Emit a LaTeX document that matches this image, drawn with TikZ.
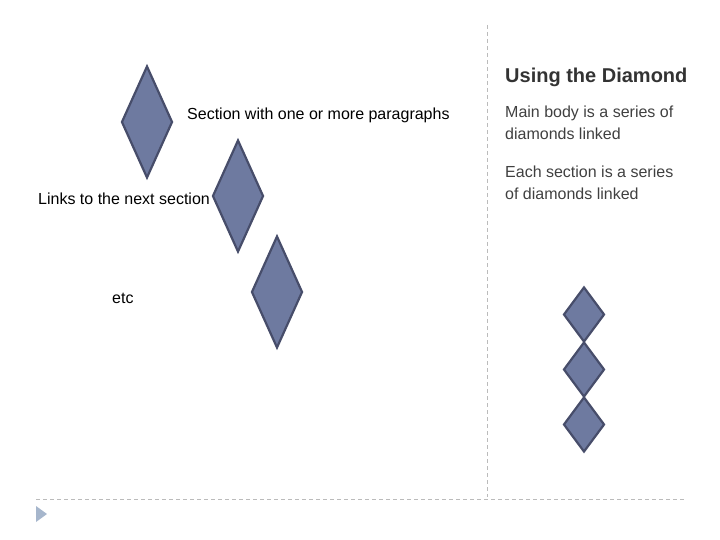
\documentclass[tikz,border=0pt]{standalone}
\usepackage{fontspec}
\setmainfont{Liberation Sans}
\usetikzlibrary{shapes.geometric}
\definecolor{dfill}{HTML}{6E7AA0}
\definecolor{dborder}{HTML}{474D6A}
\definecolor{sepline}{HTML}{BBBBBB}
\definecolor{bullet}{HTML}{A6B6CC}
\definecolor{bodytext}{HTML}{404040}
\definecolor{titletext}{HTML}{333333}
\begin{document}
\begin{tikzpicture}[x=1pt,y=-1pt,
  bigdia/.style={diamond, draw=dborder, fill=dfill, line width=2.2pt, inner sep=0pt, minimum width=51pt, minimum height=112pt},
  smalldia/.style={diamond, draw=dborder, fill=dfill, line width=2.2pt, inner sep=0pt, minimum width=41pt, minimum height=55pt},
  lefttext/.style={anchor=base west, inner sep=0pt, font=\fontsize{16}{19}\selectfont, text=black},
  righttext/.style={anchor=base west, inner sep=0pt, font=\fontsize{16}{19}\selectfont, text=bodytext},
  titlestyle/.style={anchor=base west, inner sep=0pt, font=\fontsize{20}{24}\selectfont\bfseries, text=titletext},
  sep/.style={draw=sepline, line width=0.9pt, dash pattern=on 4pt off 3pt}]
\useasboundingbox (0,0) rectangle (720,540);
% separators
\coordinate (vtop) at (487,25);
\coordinate (vbot) at (487,497);
\coordinate (hl) at (36,499);
\coordinate (hr) at (686,499);
\draw[sep] (vtop) -- (vbot);
\draw[sep] (hl) -- (hr);
% bullet
\fill[bullet] (36,506) -- (47,514) -- (36,522) -- cycle;
% big diamonds
\node[bigdia] (d1) at (147,122) {};
\node[bigdia] (d2) at (238,196) {};
\node[bigdia] (d3) at (277,292) {};
% small diamonds
\node[smalldia] (s1) at (584,314.5) {};
\node[smalldia] (s2) at (584,369.5) {};
\node[smalldia] (s3) at (584,424.5) {};
% left labels
\node[lefttext] (t1) at (187,120) {Section with one or more paragraphs};
\node[lefttext] (t2) at (38,205) {Links to the next section};
\node[lefttext] (t3) at (112,303) {etc};
% right column
\node[titlestyle] (title) at (505,82.5) {Using the Diamond};
\node[righttext] (r1) at (505,118) {Main body is a series of};
\node[righttext] (r2) at (505,140) {diamonds linked};
\node[righttext] (r3) at (505,178) {Each section is a series};
\node[righttext] (r4) at (505,200) {of diamonds linked};
\end{tikzpicture}
\end{document}
